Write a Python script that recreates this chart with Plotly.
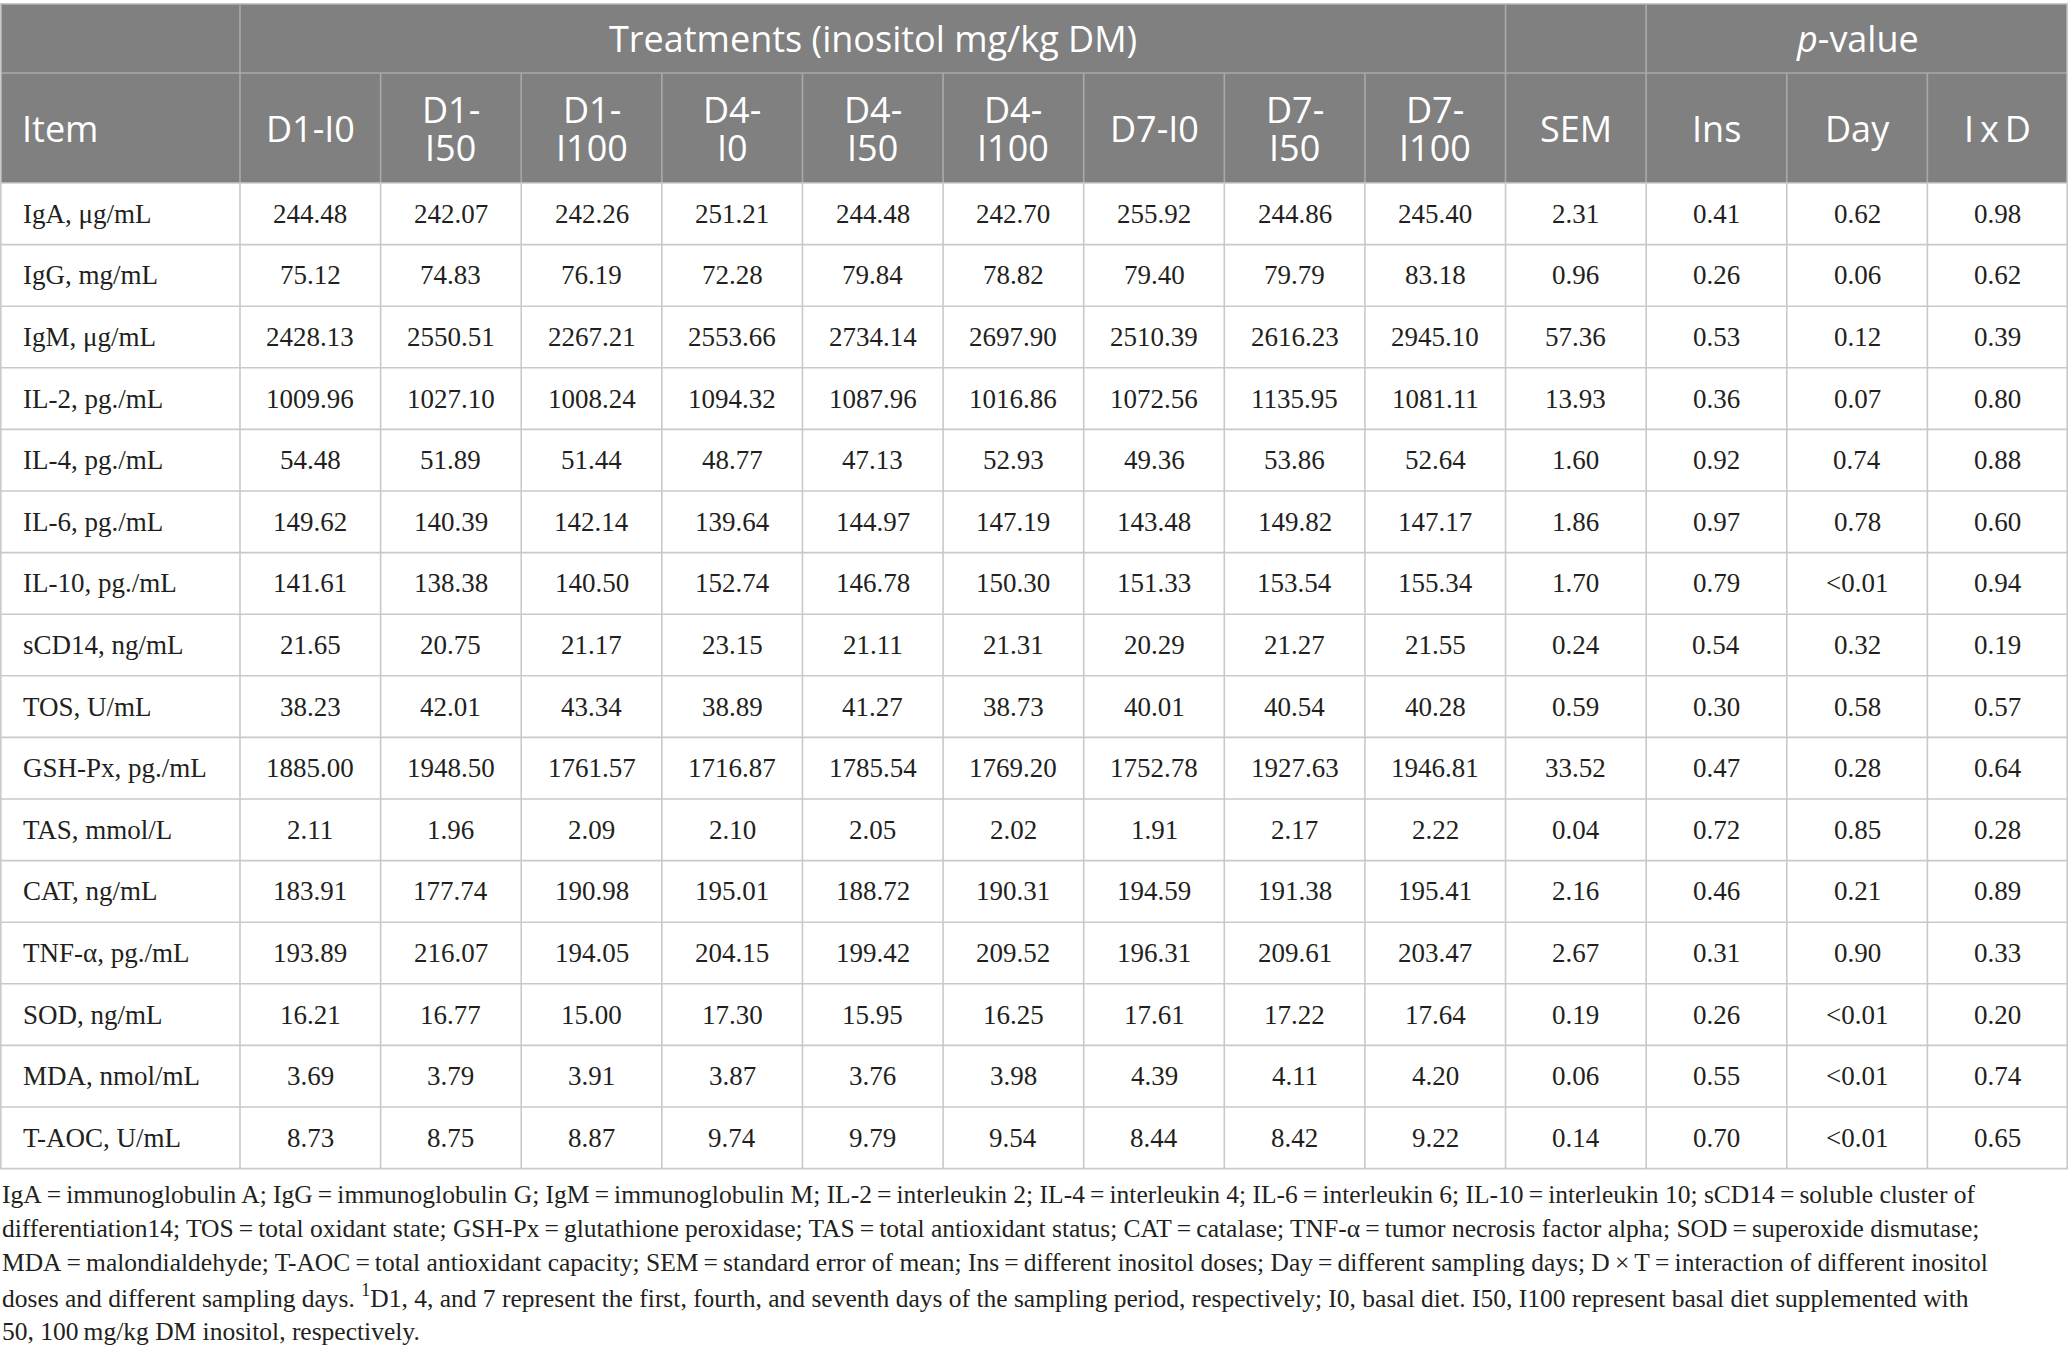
import plotly.graph_objects as go

# ---------------- data ----------------
items = ["IgA, μg/mL", "IgG, mg/mL", "IgM, μg/mL", "IL-2, pg./mL", "IL-4, pg./mL",
         "IL-6, pg./mL", "IL-10, pg./mL", "sCD14, ng/mL", "TOS, U/mL", "GSH-Px, pg./mL",
         "TAS, mmol/L", "CAT, ng/mL", "TNF-α, pg./mL", "SOD, ng/mL", "MDA, nmol/mL",
         "T-AOC, U/mL"]

treatment_labels = [("D1-I0",), ("D1-", "I50"), ("D1-", "I100"), ("D4-", "I0"), ("D4-", "I50"),
                    ("D4-", "I100"), ("D7-I0",), ("D7-", "I50"), ("D7-", "I100")]

d1_i0 = [244.48, 75.12, 2428.13, 1009.96, 54.48, 149.62, 141.61, 21.65, 38.23, 1885.00, 2.11, 183.91, 193.89, 16.21, 3.69, 8.73]
d1_i50 = [242.07, 74.83, 2550.51, 1027.10, 51.89, 140.39, 138.38, 20.75, 42.01, 1948.50, 1.96, 177.74, 216.07, 16.77, 3.79, 8.75]
d1_i100 = [242.26, 76.19, 2267.21, 1008.24, 51.44, 142.14, 140.50, 21.17, 43.34, 1761.57, 2.09, 190.98, 194.05, 15.00, 3.91, 8.87]
d4_i0 = [251.21, 72.28, 2553.66, 1094.32, 48.77, 139.64, 152.74, 23.15, 38.89, 1716.87, 2.10, 195.01, 204.15, 17.30, 3.87, 9.74]
d4_i50 = [244.48, 79.84, 2734.14, 1087.96, 47.13, 144.97, 146.78, 21.11, 41.27, 1785.54, 2.05, 188.72, 199.42, 15.95, 3.76, 9.79]
d4_i100 = [242.70, 78.82, 2697.90, 1016.86, 52.93, 147.19, 150.30, 21.31, 38.73, 1769.20, 2.02, 190.31, 209.52, 16.25, 3.98, 9.54]
d7_i0 = [255.92, 79.40, 2510.39, 1072.56, 49.36, 143.48, 151.33, 20.29, 40.01, 1752.78, 1.91, 194.59, 196.31, 17.61, 4.39, 8.44]
d7_i50 = [244.86, 79.79, 2616.23, 1135.95, 53.86, 149.82, 153.54, 21.27, 40.54, 1927.63, 2.17, 191.38, 209.61, 17.22, 4.11, 8.42]
d7_i100 = [245.40, 83.18, 2945.10, 1081.11, 52.64, 147.17, 155.34, 21.55, 40.28, 1946.81, 2.22, 195.41, 203.47, 17.64, 4.20, 9.22]
sem = [2.31, 0.96, 57.36, 13.93, 1.60, 1.86, 1.70, 0.24, 0.59, 33.52, 0.04, 2.16, 2.67, 0.19, 0.06, 0.14]
p_ins = ["0.41", "0.26", "0.53", "0.36", "0.92", "0.97", "0.79", "0.54", "0.30", "0.47", "0.72", "0.46", "0.31", "0.26", "0.55", "0.70"]
p_day = ["0.62", "0.06", "0.12", "0.07", "0.74", "0.78", "<0.01", "0.32", "0.58", "0.28", "0.85", "0.21", "0.90", "<0.01", "<0.01", "<0.01"]
p_ixd = ["0.98", "0.62", "0.39", "0.80", "0.88", "0.60", "0.94", "0.19", "0.57", "0.64", "0.28", "0.89", "0.33", "0.20", "0.74", "0.65"]

group_title = "Treatments (inositol mg/kg DM)"
pvalue_title = "<i>p</i>-value"
other_headers = ["SEM", "Ins", "Day", "I\u2009x\u2009D"]

E = "\u2009=\u2009"
footnote_lines = [
    f"IgA{E}immunoglobulin A; IgG{E}immunoglobulin G; IgM{E}immunoglobulin M; IL-2{E}interleukin 2; IL-4{E}interleukin 4; IL-6{E}interleukin 6; IL-10{E}interleukin 10; sCD14{E}soluble cluster of",
    f"differentiation14; TOS{E}total oxidant state; GSH-Px{E}glutathione peroxidase; TAS{E}total antioxidant status; CAT{E}catalase; TNF-α{E}tumor necrosis factor alpha; SOD{E}superoxide dismutase;",
    f"MDA{E}malondialdehyde; T-AOC{E}total antioxidant capacity; SEM{E}standard error of mean; Ins{E}different inositol doses; Day{E}different sampling days; D\u2009×\u2009T{E}interaction of different inositol",
    "doses and different sampling days. <sup>1</sup>D1, 4, and 7 represent the first, fourth, and seventh days of the sampling period, respectively; I0, basal diet. I50, I100 represent basal diet supplemented with",
    "50, 100\u2009mg/kg DM inositol, respectively.",
]

# ---------------- layout constants ----------------
W, H = 2068, 1369
top = 4
row1_bot = 73
head_bot = 183
row_h = 61.6
item_w = 240
ncols = 13
col_w = (W - item_w) / ncols
HEAD_FILL = "#7f807f"
HEAD_LINE = "#a9a9a9"
BODY_LINE = "#c9c9c9"
TXT = "#231f20"
SERIF = "Liberation Serif"
SANS = "Open Sans"

treat_cols = [d1_i0, d1_i50, d1_i100, d4_i0, d4_i50, d4_i100, d7_i0, d7_i50, d7_i100]
body_cols = [[f"{v:.2f}" for v in c] for c in treat_cols] + [[f"{v:.2f}" for v in sem], p_ins, p_day, p_ixd]

nrows = len(items)
table_bot = head_bot + nrows * row_h
col_edges = [item_w + k * col_w for k in range(ncols + 1)]

shapes = []
annotations = []


def line(x0, y0, x1, y1, color, w=1.6):
    shapes.append(dict(type="line", xref="x", yref="y", x0=x0, y0=y0, x1=x1, y1=y1,
                       line=dict(color=color, width=w), layer="above"))


def text(x, y, s, size, family, color, anchor="center"):
    annotations.append(dict(x=x, y=y, xref="x", yref="y", text=s, showarrow=False,
                            xanchor=anchor, yanchor="middle",
                            font=dict(size=size, family=family, color=color)))


# header background
shapes.append(dict(type="rect", xref="x", yref="y", x0=0, x1=W, y0=top, y1=head_bot,
                   fillcolor=HEAD_FILL, line=dict(width=0), layer="below"))

# header lines
line(0, top, W, top, "#b4b4b4")
line(0, row1_bot, W, row1_bot, HEAD_LINE)
for x in [item_w, col_edges[9], col_edges[10]]:
    line(x, top, x, row1_bot, HEAD_LINE)
for x in col_edges[:-1]:
    line(x, row1_bot, x, head_bot, HEAD_LINE)

# body lines
for r in range(nrows + 1):
    y = head_bot + r * row_h
    line(0, y, W, y, BODY_LINE)
for x in col_edges[:-1]:
    line(x, head_bot, x, table_bot, BODY_LINE)
line(0.8, top, 0.8, table_bot, BODY_LINE)
line(W - 0.8, top, W - 0.8, table_bot, BODY_LINE)

# header text
HS = 36
text((item_w + col_edges[9]) / 2, (top + row1_bot) / 2, group_title, HS, SANS, "white")
text((col_edges[10] + col_edges[13]) / 2, (top + row1_bot) / 2, pvalue_title, HS, SANS, "white")
hmid = (row1_bot + head_bot) / 2
text(20, hmid, "Item", HS, SANS, "white", anchor="left")
for k, lab in enumerate(treatment_labels):
    cx = (col_edges[k] + col_edges[k + 1]) / 2
    if len(lab) == 1:
        text(cx, hmid, lab[0], HS, SANS, "white")
    else:
        text(cx, hmid - 19, lab[0], HS, SANS, "white")
        text(cx, hmid + 19, lab[1], HS, SANS, "white")
for k, lab in enumerate(other_headers):
    cx = (col_edges[9 + k] + col_edges[10 + k]) / 2
    text(cx, hmid, lab, HS, SANS, "white")

# body text
BS = 27
for r in range(nrows):
    cy = head_bot + (r + 0.5) * row_h
    text(21, cy, items[r], BS, SERIF, TXT, anchor="left")
    for c in range(ncols):
        cx = (col_edges[c] + col_edges[c + 1]) / 2
        text(cx, cy, body_cols[c][r], BS, SERIF, TXT)

# footnote
for i, s in enumerate(footnote_lines):
    text(0, 1194 + i * 34.3, s, 25.5, SERIF, TXT, anchor="left")

fig = go.Figure()
fig.update_layout(
    width=W, height=H,
    margin=dict(l=0, r=0, t=0, b=0),
    paper_bgcolor="white", plot_bgcolor="white",
    xaxis=dict(range=[0, W], visible=False, fixedrange=True),
    yaxis=dict(range=[H, 0], visible=False, fixedrange=True),
    shapes=shapes, annotations=annotations, showlegend=False,
)
fig.write_html("out.html", config={"displayModeBar": False},
               post_script="document.body.style.margin='0';document.body.style.overflow='hidden';")
